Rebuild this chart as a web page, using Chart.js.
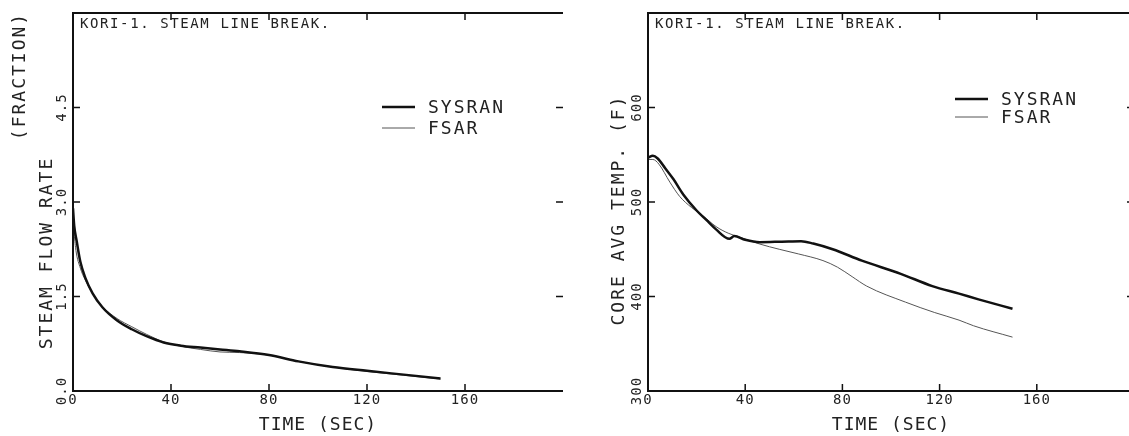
<!DOCTYPE html>
<html>
<head>
<meta charset="utf-8">
<script src="https://cdn.jsdelivr.net/npm/chart.js@4"></script>
<style>
  html, body { margin: 0; padding: 0; background: #fff; overflow: hidden; }
  body { width: 1129px; height: 436px; position: relative; }
  canvas { position: absolute; top: 0; }
  #flow { left: 0; }
  #temp { left: 575px; }
</style>
</head>
<body>
<canvas id="flow" width="570" height="436"></canvas>
<canvas id="temp" width="570" height="436"></canvas>
<script>
// steam flow rate (fraction) vs time (sec)
const flowSysranT = [0, 0.5, 1.5, 3, 5, 8, 12, 18, 24, 30, 37, 44, 52, 60, 68, 80, 92, 106, 120, 135, 150];
const flowSysranV = [2.9, 2.62, 2.38, 2.05, 1.8, 1.55, 1.33, 1.12, 0.98, 0.87, 0.77, 0.72, 0.69, 0.66, 0.63, 0.57, 0.47, 0.38, 0.32, 0.26, 0.2];
const flowFsarT = [0, 0.5, 1.2, 3, 5, 8, 12, 18, 24, 30, 37, 44, 52, 60, 68, 80, 92, 106, 120, 135, 150];
const flowFsarV = [2.85, 2.5, 2.23, 1.95, 1.76, 1.55, 1.34, 1.15, 1.02, 0.9, 0.78, 0.71, 0.66, 0.62, 0.61, 0.57, 0.47, 0.38, 0.31, 0.25, 0.19];

// core average temperature (F) vs time (sec)
const tempSysranT = [0, 2, 4, 7, 10.5, 14.5, 20, 24, 28, 33.5, 35.5, 40, 46, 55, 63, 68, 76, 88, 104, 117, 128, 136, 150];
const tempSysranV = [547, 549, 546, 536, 524, 508, 491, 481, 471, 461, 464, 460, 457.5, 458, 458.5, 456, 450, 438, 424, 411, 403, 397, 387];
const tempFsarT = [0, 2, 4.5, 9, 13, 18, 22.8, 28, 33, 38, 46, 54, 62, 72, 78, 84, 90, 106, 118, 128, 134, 150];
const tempFsarV = [545, 545, 540, 521, 506, 494, 485, 474, 467, 462.5, 455.5, 450, 445, 438, 431, 421, 411, 394, 383, 375, 369, 357];

const timeTicks = [0, 40, 80, 120, 160];
const flowTicks = [0, 1.5, 3.0, 4.5];
const tempTicks = [300, 400, 500, 600];

const ink = '#222';
const mono = '"DejaVu Sans Mono", "Liberation Mono", monospace';

function pairs(xs, ys) {
  return xs.map((x, i) => ({ x: x, y: ys[i] }));
}

// frame, inward ticks, header, legend and y titles like the old plotter output
const plotter = {
  id: 'plotter',
  beforeDraw(chart) {
    chart.ctx.letterSpacing = '1px';
  },
  afterDraw(chart, args, opts) {
    const { ctx, chartArea: a, scales } = chart;
    ctx.save();
    ctx.strokeStyle = '#111';
    ctx.lineWidth = 2;
    ctx.beginPath();
    ctx.moveTo(a.right, a.top);
    ctx.lineTo(a.left, a.top);
    ctx.lineTo(a.left, a.bottom);
    ctx.lineTo(a.right, a.bottom);
    ctx.stroke();

    ctx.lineWidth = 1.5;
    ctx.beginPath();
    scales.x.ticks.forEach(t => {
      if (t.value <= scales.x.min || t.value >= scales.x.max) return;
      const px = scales.x.getPixelForValue(t.value);
      ctx.moveTo(px, a.bottom); ctx.lineTo(px, a.bottom - 7);
      ctx.moveTo(px, a.top); ctx.lineTo(px, a.top + 7);
    });
    scales.y.ticks.forEach(t => {
      if (t.value <= scales.y.min || t.value >= scales.y.max) return;
      const py = scales.y.getPixelForValue(t.value);
      ctx.moveTo(a.left, py); ctx.lineTo(a.left + 7, py);
      ctx.moveTo(a.right, py); ctx.lineTo(a.right - 7, py);
    });
    ctx.stroke();

    ctx.fillStyle = ink;
    ctx.textBaseline = 'middle';
    ctx.textAlign = 'left';
    ctx.font = '14px ' + mono;
    ctx.letterSpacing = '1.6px';
    ctx.fillText(opts.header, a.left + 7, a.top + 11);

    // legend
    ctx.font = '18px ' + mono;
    ctx.letterSpacing = '2px';
    chart.data.datasets.forEach((ds, i) => {
      const y = opts.legendY[i];
      ctx.strokeStyle = ds.borderColor;
      ctx.lineWidth = ds.borderWidth;
      ctx.beginPath();
      ctx.moveTo(opts.legendX, y);
      ctx.lineTo(opts.legendX + 33, y);
      ctx.stroke();
      ctx.fillText(ds.label, opts.legendX + 46, y + 1);
    });

    ctx.textAlign = 'center';
    opts.yTitles.forEach(t => {
      ctx.save();
      ctx.translate(t.x, t.y);
      ctx.rotate(-Math.PI / 2);
      ctx.fillText(t.text, 0, 0);
      ctx.restore();
    });
    ctx.restore();
  }
};

function xScale() {
  return {
    type: 'linear', min: 0, max: 200,
    grid: { display: false, drawTicks: false }, border: { display: false },
    afterBuildTicks: s => { s.ticks = timeTicks.concat([200]).map(v => ({ value: v })); },
    ticks: {
      padding: 1, color: ink, font: { family: mono, size: 14 },
      callback: v => timeTicks.includes(v) ? String(v) : ''
    },
    title: { display: true, text: 'TIME (SEC)', padding: 0, color: ink, font: { family: mono, size: 18 } },
    afterFit: s => { s.height = 45; }
  };
}

function yScale(min, max, list, fmt) {
  return {
    min: min, max: max,
    grid: { display: false, drawTicks: false }, border: { display: false },
    afterBuildTicks: s => { s.ticks = list.concat([max]).map(v => ({ value: v })); },
    ticks: {
      minRotation: 90, maxRotation: 90, crossAlign: 'center', padding: -2,
      color: ink, font: { family: mono, size: 14 },
      callback: v => list.includes(v) ? fmt(v) : ''
    },
    afterFit: s => { s.width = 73; }
  };
}

new Chart(document.getElementById('flow'), {
  type: 'line',
  data: {
    datasets: [
      { label: 'SYSRAN', data: pairs(flowSysranT, flowSysranV), borderColor: '#111', borderWidth: 2.5 },
      { label: 'FSAR', data: pairs(flowFsarT, flowFsarV), borderColor: '#555', borderWidth: 1 }
    ]
  },
  options: {
    responsive: false,
    animation: false,
    layout: { padding: { left: 0, top: 13, right: 7, bottom: 0 } },
    elements: { point: { radius: 0 }, line: { cubicInterpolationMode: 'monotone' } },
    plugins: {
      legend: { display: false },
      tooltip: { enabled: false },
      plotter: {
        header: 'KORI-1. STEAM LINE BREAK.',
        legendX: 382, legendY: [107, 128],
        yTitles: [
          { text: 'STEAM FLOW RATE', x: 47, y: 253 },
          { text: '(FRACTION)', x: 20, y: 76 }
        ]
      }
    },
    scales: {
      x: xScale(),
      y: yScale(0, 6, flowTicks, v => v.toFixed(1))
    }
  },
  plugins: [plotter]
});

new Chart(document.getElementById('temp'), {
  type: 'line',
  data: {
    datasets: [
      { label: 'SYSRAN', data: pairs(tempSysranT, tempSysranV), borderColor: '#111', borderWidth: 2.5 },
      { label: 'FSAR', data: pairs(tempFsarT, tempFsarV), borderColor: '#555', borderWidth: 1 }
    ]
  },
  options: {
    responsive: false,
    animation: false,
    layout: { padding: { left: 0, top: 13, right: 11, bottom: 0 } },
    elements: { point: { radius: 0 }, line: { cubicInterpolationMode: 'monotone' } },
    plugins: {
      legend: { display: false },
      tooltip: { enabled: false },
      plotter: {
        header: 'KORI-1. STEAM LINE BREAK.',
        legendX: 380, legendY: [99, 117],
        yTitles: [
          { text: 'CORE AVG TEMP. (F)', x: 44, y: 210 }
        ]
      }
    },
    scales: {
      x: xScale(),
      y: yScale(300, 700, tempTicks, v => String(v))
    }
  },
  plugins: [plotter]
});
</script>
</body>
</html>
